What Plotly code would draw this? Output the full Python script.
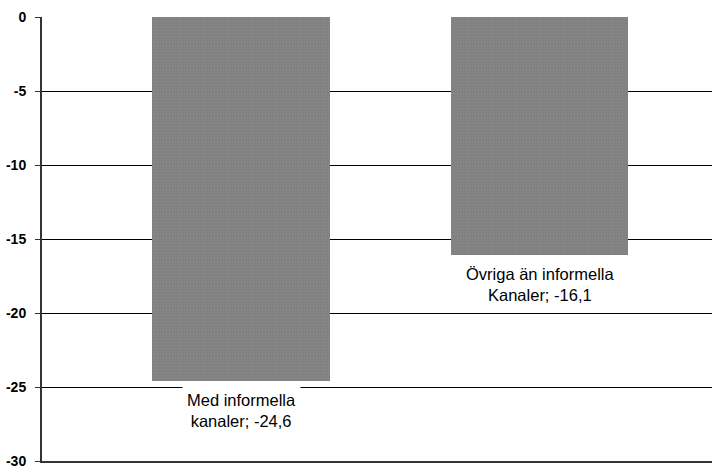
import plotly.graph_objects as go

# Change in values by channel
categories = ["Med informella<br>kanaler", "Övriga än informella<br>Kanaler"]
values = [-24.6, -16.1]
tick_values = [0, -5, -10, -15, -20, -25, -30]
tick_labels = ["0", "-5", "-10", "-15", "-20", "-25", "-30"]

positions = list(range(len(categories)))

fig = go.Figure()
fig.add_trace(go.Bar(
    x=positions,
    y=values,
    width=0.596,
    marker=dict(
        color="#808080",
        line=dict(width=0),
        pattern=dict(shape="+", size=3, solidity=0.25, fgcolor="#9a9a9a", bgcolor="#808080"),
    ),
    hoverinfo="skip",
))

# Value labels below each bar
for xp, cat, v in zip(positions, categories, values):
    fig.add_annotation(
        x=xp, y=v, xref="x", yref="y",
        text=f"{cat}; {str(v).replace('.', ',')}",
        showarrow=False,
        yanchor="top", yshift=-5,
        align="center",
        bgcolor="white",
        borderpad=4,
        font=dict(family="Liberation Sans, Arial, sans-serif", size=16.5, color="#000000"),
    )

fig.update_layout(
    width=712, height=468,
    margin=dict(l=42, r=0, t=17, b=7),
    paper_bgcolor="white",
    plot_bgcolor="white",
    showlegend=False,
    bargap=0,
    xaxis=dict(
        range=[-0.667, 1.578],
        showticklabels=False,
        showgrid=False,
        zeroline=False,
        showline=True,
        linecolor="#333333",
        linewidth=2,
        ticks="",
        mirror=False,
    ),
    yaxis=dict(
        range=[-30, 0],
        tickvals=tick_values,
        ticktext=tick_labels,
        tickfont=dict(family="Liberation Sans, Arial, sans-serif", size=14,
                      color="#000000", weight="bold"),
        ticklabeloverflow="allow",
        showgrid=True,
        gridcolor="#000000",
        gridwidth=1,
        zeroline=False,
        showline=True,
        linecolor="#333333",
        linewidth=2,
        ticks="outside",
        ticklen=5,
        tickcolor="#333333",
        tickwidth=1,
        ticklabelstandoff=6,
    ),
)

fig.write_html("out.html")
